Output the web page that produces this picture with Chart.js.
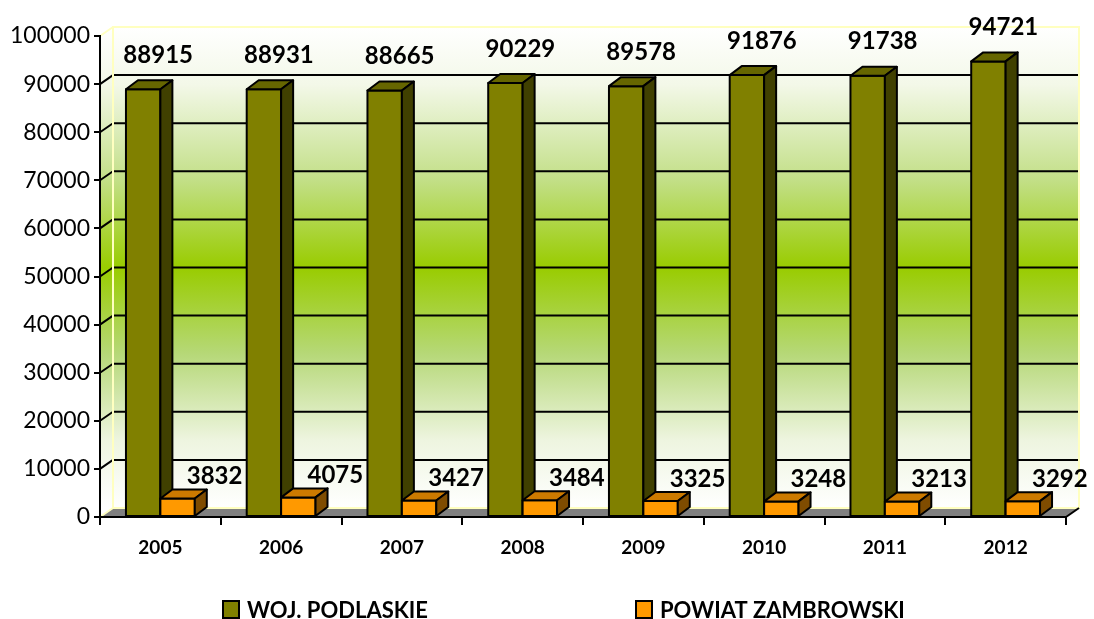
<!DOCTYPE html>
<html>
<head>
<meta charset="utf-8">
<script src="https://cdn.jsdelivr.net/npm/chart.js@4.4.0/dist/chart.umd.min.js"></script>
<style>
html, body { margin: 0; padding: 0; background: #fff; }
#wrap { width: 1094px; height: 619px; }
</style>
</head>
<body>
<div id="wrap"><canvas id="chart"></canvas></div>
<script>
// dane
const years = ['2005', '2006', '2007', '2008', '2009', '2010', '2011', '2012'];
const podlaskie = [88915, 88931, 88665, 90229, 89578, 91876, 91738, 94721];
const zambrowski = [3832, 4075, 3427, 3484, 3325, 3248, 3213, 3292];
const seriesNames = ['WOJ. PODLASKIE', 'POWIAT ZAMBROWSKI'];
const yMax = 100000;
const yStep = 10000;

const FONT = 'Lato, "Open Sans", sans-serif';
const DX = 12, DY = -9;   // glebokosc slupkow
const WX = 13, WY = -9;   // glebokosc scian

// kolory: przod, bok, gora
const faceColors = [
    { front: '#808000', side: '#404000', top: '#666600' },
    { front: '#ff9900', side: '#7f4c00', top: '#cc7a00' }
];

function poly(ctx, pts) {
    ctx.beginPath();
    ctx.moveTo(pts[0][0], pts[0][1]);
    for (let i = 1; i < pts.length; i++) ctx.lineTo(pts[i][0], pts[i][1]);
    ctx.closePath();
}

// sciany, podloga i linie siatki
const wallsPlugin = {
    id: 'walls',
    beforeDraw(chart) {
        const { ctx, chartArea: a, scales: { y } } = chart;
        ctx.save();
        const grad = ctx.createLinearGradient(0, a.top + WY, 0, a.bottom + WY);
        grad.addColorStop(0, '#ffffff');
        grad.addColorStop(0.12, '#f3f8e8');
        grad.addColorStop(0.32, '#c2df86');
        grad.addColorStop(0.5, '#99cc00');
        grad.addColorStop(0.68, '#b6d878');
        grad.addColorStop(0.86, '#eef5e0');
        grad.addColorStop(1, '#ffffff');
        ctx.fillStyle = grad;
        // lewa sciana
        poly(ctx, [[a.left, a.top], [a.left + WX, a.top + WY], [a.left + WX, a.bottom + WY], [a.left, a.bottom]]);
        ctx.fill();
        // tylna sciana
        ctx.fillRect(a.left + WX, a.top + WY, a.right - a.left, a.bottom - a.top);
        // podloga
        ctx.fillStyle = '#808080';
        poly(ctx, [[a.left, a.bottom], [a.right, a.bottom], [a.right + WX, a.bottom + WY], [a.left + WX, a.bottom + WY]]);
        ctx.fill();

        // siatka
        ctx.strokeStyle = '#000';
        ctx.lineWidth = 2;
        y.ticks.forEach(t => {
            if (t.value <= 0 || t.value >= yMax) return;
            const py = y.getPixelForValue(t.value);
            ctx.beginPath();
            ctx.moveTo(a.left + WX, py + WY);
            ctx.lineTo(a.right + WX, py + WY);
            ctx.moveTo(a.left, py);
            ctx.lineTo(a.left + WX, py + WY);
            ctx.stroke();
        });

        // jasne krawedzie scian
        ctx.strokeStyle = '#ffffc0';
        ctx.lineWidth = 2;
        ctx.strokeRect(a.left + WX, a.top + WY, a.right - a.left, a.bottom - a.top);
        ctx.beginPath();
        ctx.moveTo(a.left, a.top);
        ctx.lineTo(a.left + WX, a.top + WY);
        ctx.moveTo(a.left, a.bottom);
        ctx.lineTo(a.left + WX, a.bottom + WY);
        ctx.stroke();

        // prawy koniec podlogi
        ctx.strokeStyle = '#000';
        ctx.beginPath();
        ctx.moveTo(a.right, a.bottom);
        ctx.lineTo(a.right + WX, a.bottom + WY);
        ctx.stroke();
        ctx.restore();
    }
};

// slupki 3D (rysowane po kolei, zeby pomaranczowe zaslanialy bok zielonych)
const bars3dPlugin = {
    id: 'bars3d',
    afterDatasetsDraw(chart) {
        const ctx = chart.ctx;
        ctx.save();
        ctx.strokeStyle = '#000';
        ctx.lineWidth = 2;
        ctx.lineJoin = 'round';
        chart.data.datasets.forEach((ds, i) => {
            const c = faceColors[i];
            chart.getDatasetMeta(i).data.forEach(bar => {
                const { x, y, base, width } = bar.getProps(['x', 'y', 'base', 'width'], true);
                const l = x - width / 2, r = x + width / 2;
                ctx.fillStyle = c.front;
                poly(ctx, [[l, y], [r, y], [r, base], [l, base]]);
                ctx.fill(); ctx.stroke();
                ctx.fillStyle = c.top;
                poly(ctx, [[l, y], [r, y], [r + DX, y + DY], [l + DX, y + DY]]);
                ctx.fill(); ctx.stroke();
                ctx.fillStyle = c.side;
                poly(ctx, [[r, y], [r + DX, y + DY], [r + DX, base + DY], [r, base]]);
                ctx.fill(); ctx.stroke();
            });
        });
        ctx.restore();
    }
};

// etykiety wartosci i legenda
const labelsPlugin = {
    id: 'labels',
    afterDraw(chart) {
        const ctx = chart.ctx;
        ctx.save();
        ctx.fillStyle = '#000';
        ctx.font = 'bold 24px ' + FONT;
        ctx.textAlign = 'center';
        ctx.textBaseline = 'middle';
        const offs = [[15, -34], [37, -22]];
        chart.data.datasets.forEach((ds, i) => {
            chart.getDatasetMeta(i).data.forEach((bar, j) => {
                ctx.fillText(String(ds.data[j]), bar.x + offs[i][0], bar.y + offs[i][1]);
            });
        });

        // legenda
        const legendX = [223, 636];
        ctx.font = 'bold 22px ' + FONT;
        ctx.textAlign = 'left';
        ctx.textBaseline = 'alphabetic';
        chart.data.datasets.forEach((ds, i) => {
            const lx = legendX[i];
            ctx.fillStyle = faceColors[i].front;
            ctx.fillRect(lx, 601, 16, 17);
            ctx.strokeStyle = '#000';
            ctx.lineWidth = 2;
            ctx.strokeRect(lx, 601, 16, 17);
            ctx.fillStyle = '#000';
            ctx.fillText(ds.label, lx + 24, 618);
        });
        ctx.restore();
    }
};

new Chart(document.getElementById('chart'), {
    type: 'bar',
    data: {
        labels: years,
        datasets: [
            { label: seriesNames[0], data: podlaskie, backgroundColor: faceColors[0].front },
            { label: seriesNames[1], data: zambrowski, backgroundColor: faceColors[1].front }
        ]
    },
    options: {
        responsive: true,
        maintainAspectRatio: false,
        animation: false,
        devicePixelRatio: 1,
        categoryPercentage: 0.57,
        barPercentage: 1,
        layout: { padding: { top: 36, right: 28, left: 0, bottom: 0 } },
        plugins: {
            legend: { display: false },
            tooltip: { enabled: false }
        },
        scales: {
            x: {
                grid: { offset: true, drawOnChartArea: false, drawTicks: true, tickLength: 8, color: '#000', lineWidth: 2 },
                border: { color: '#000', width: 2 },
                ticks: { color: '#000', font: { family: FONT, size: 19, weight: 'bold' }, padding: 11, maxRotation: 0 },
                afterFit(scale) { scale.height = 102; }
            },
            y: {
                min: 0,
                max: yMax,
                grid: { drawOnChartArea: false, drawTicks: true, tickLength: 6, color: '#000', lineWidth: 2 },
                border: { color: '#000', width: 2 },
                ticks: { stepSize: yStep, color: '#000', font: { family: FONT, size: 23 }, padding: 4,
                         callback: v => String(v) },
                afterFit(scale) { scale.width = 100; }
            }
        }
    },
    plugins: [wallsPlugin, bars3dPlugin, labelsPlugin]
});
</script>
</body>
</html>
